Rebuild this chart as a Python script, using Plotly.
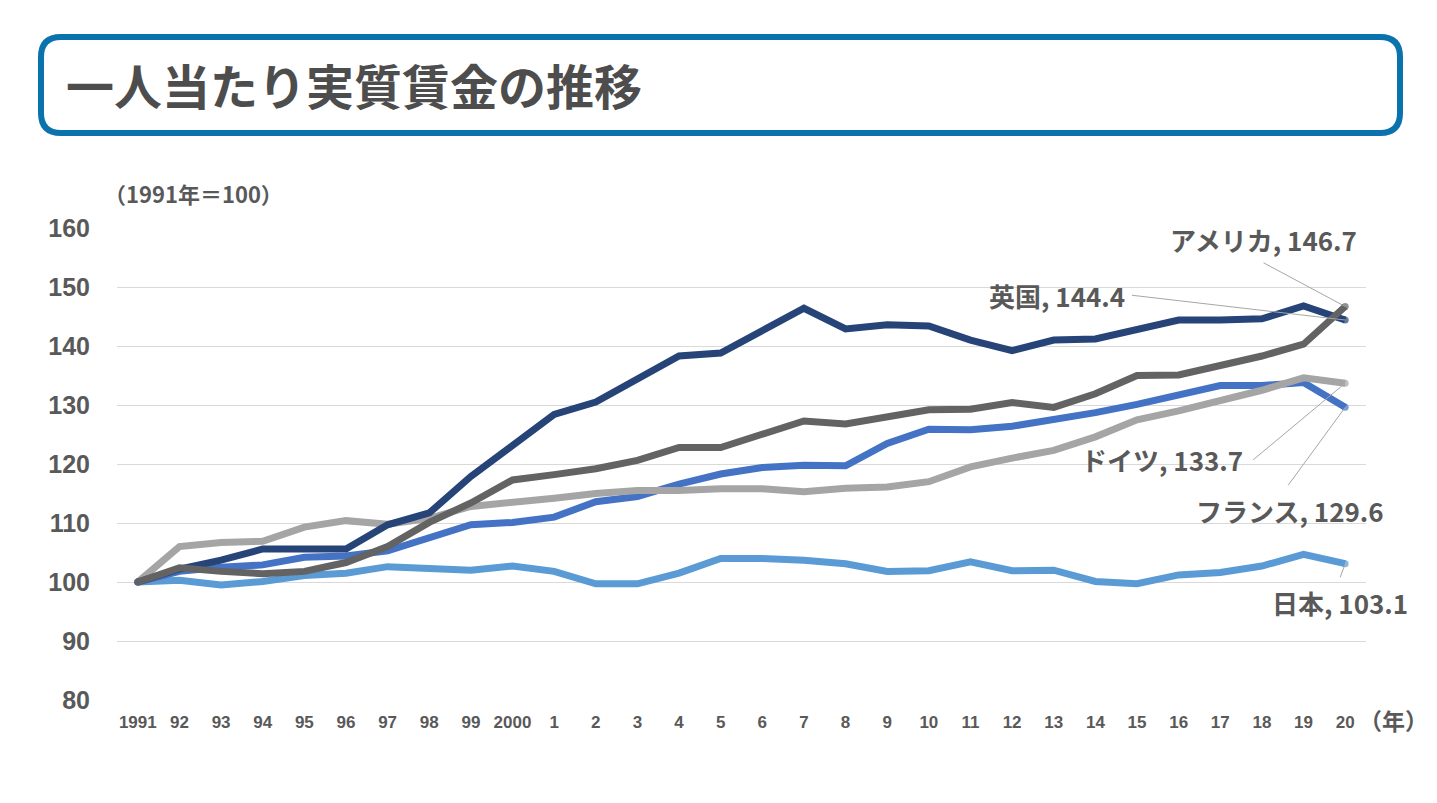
import plotly.graph_objects as go

years = list(range(1991, 2021))
tick_labels = ["1991", "92", "93", "94", "95", "96", "97", "98", "99", "2000",
               "1", "2", "3", "4", "5", "6", "7", "8", "9", "10",
               "11", "12", "13", "14", "15", "16", "17", "18", "19", "20"]

japan = [100, 100.3, 99.5, 100.1, 101.1, 101.5, 102.6, 102.3, 102.0, 102.7,
         101.8, 99.7, 99.7, 101.5, 104.0, 104.0, 103.7, 103.1, 101.8, 101.9,
         103.4, 101.9, 102.0, 100.1, 99.7, 101.2, 101.6, 102.7, 104.7, 103.1]
france = [100, 101.8, 102.5, 102.9, 104.2, 104.4, 105.3, 107.4, 109.7, 110.1,
          111.0, 113.6, 114.5, 116.6, 118.3, 119.4, 119.8, 119.7, 123.5, 125.9,
          125.8, 126.4, 127.5, 128.7, 130.1, 131.6, 133.3, 133.3, 133.8, 129.6]
germany = [100, 106.0, 106.7, 106.9, 109.3, 110.4, 109.8, 110.8, 112.8, 113.4,
           114.2, 115.0, 115.5, 115.5, 115.8, 115.8, 115.3, 115.9, 116.1, 117.0,
           119.5, 121.0, 122.3, 124.6, 127.5, 129.0, 130.6, 132.5, 134.6, 133.7]
uk = [100, 102.2, 103.7, 105.6, 105.6, 105.6, 109.7, 111.7, 117.9, 123.2,
      128.4, 130.5, 134.5, 138.3, 138.8, 142.5, 146.4, 142.9, 143.6, 143.4,
      141.0, 139.2, 141.0, 141.2, 142.7, 144.4, 144.4, 144.6, 146.8, 144.4]
usa = [100, 102.4, 101.8, 101.4, 101.8, 103.3, 106.0, 110.1, 113.4, 117.3,
       118.2, 119.2, 120.6, 122.8, 122.8, 124.9, 127.3, 126.8, 128.0, 129.2,
       129.3, 130.4, 129.6, 131.9, 135.0, 135.1, 136.7, 138.3, 140.3, 146.7]

series = [
    ("日本", japan, "#5B9BD5"),
    ("フランス", france, "#4472C4"),
    ("ドイツ", germany, "#A5A5A5"),
    ("英国", uk, "#264478"),
    ("アメリカ", usa, "#636363"),
]

x = list(range(len(years)))
TXT = "#595959"
JP = "Noto Sans CJK JP"
n = len(years) - 1

fig = go.Figure()
for name, vals, col in series:
    cap = [7 if i in (0, n) else 0 for i in x]  # rounded line ends
    fig.add_trace(go.Scatter(x=x, y=vals, mode="lines+markers", name=name,
                             line=dict(color=col, width=7),
                             marker=dict(size=cap, color=col, line=dict(width=0)),
                             hoverinfo="name+y"))

labels = [
    ("アメリカ", usa, 27.04, 158.0, "center", (27.04, 154.1)),
    ("英国", uk, 23.76, 148.6, "right", (23.88, 148.6)),
    ("ドイツ", germany, 26.6, 120.7, "right", (26.79, 120.7)),
    ("フランス", france, 27.68, 112.2, "center", (27.63, 116.4)),
    ("日本", japan, 28.88, 96.6, "center", (28.88, 100.8)),
]
for name, vals, tx, ty, anc, (lx, ly) in labels:
    fig.add_shape(type="line", xref="x", yref="y", x0=lx, y0=ly, x1=n, y1=vals[-1],
                  line=dict(color="#A6A6A6", width=1), layer="above")
    fig.add_annotation(x=tx, y=ty, xref="x", yref="y", showarrow=False,
                       text=f"{name}, {vals[-1]:.1f}", xanchor=anc, yanchor="middle",
                       font=dict(family=JP, size=26, color=TXT, weight="bold"))

# plot area in page pixels (page has 8px body offset)
OFF = 8
L, R, T, B = 117, 1366, 228, 700
W, H = R - L, B - T
def px(xp): return (xp - L) / W
def py(yp): return (B - yp) / H
x0b, x1b, y0b, y1b, r = 41, 1400, 37, 133, 20
path = (f"M {px(x0b + r)},{py(y0b)} L {px(x1b - r)},{py(y0b)} "
        f"Q {px(x1b)},{py(y0b)} {px(x1b)},{py(y0b + r)} "
        f"L {px(x1b)},{py(y1b - r)} Q {px(x1b)},{py(y1b)} {px(x1b - r)},{py(y1b)} "
        f"L {px(x0b + r)},{py(y1b)} Q {px(x0b)},{py(y1b)} {px(x0b)},{py(y1b - r)} "
        f"L {px(x0b)},{py(y0b + r)} Q {px(x0b)},{py(y0b)} {px(x0b + r)},{py(y0b)} Z")
fig.add_shape(type="path", xref="paper", yref="paper", path=path,
              line=dict(color="#0A72AC", width=6), fillcolor="white", layer="below")

fig.add_annotation(x=px(64), y=py(84), xref="paper", yref="paper", showarrow=False,
                   text="一人当たり実質賃金の推移", xanchor="left", yanchor="middle",
                   font=dict(family=JP, size=48, color="#4D4D4D", weight="bold"))
fig.add_annotation(x=px(102), y=py(193), xref="paper", yref="paper", showarrow=False,
                   text="（1991年＝100）", xanchor="left", yanchor="middle",
                   font=dict(family=JP, size=22, color=TXT, weight="bold"))
fig.add_annotation(x=px(1357), y=py(720), xref="paper", yref="paper", showarrow=False,
                   text="（年）", xanchor="left", yanchor="middle",
                   font=dict(family=JP, size=23, color=TXT, weight="bold"))

fig.update_layout(
    width=1437, height=803,
    margin=dict(l=L - OFF, r=1437 - R + OFF, t=T - OFF, b=803 - B + OFF, autoexpand=False),
    paper_bgcolor="white", plot_bgcolor="white",
    showlegend=False,
    font=dict(family=JP, color=TXT),
    xaxis=dict(range=[-0.5, n + 0.5], tickmode="array", tickvals=x, ticktext=tick_labels,
               showgrid=False, zeroline=False, showline=False, ticks="",
               tickfont=dict(family="Liberation Sans", size=17, color=TXT, weight="bold"),
               ticklabelstandoff=10),
    yaxis=dict(range=[80, 160], dtick=10, showgrid=True, gridcolor="#D9D9D9", gridwidth=1,
               zeroline=False, showline=False, ticks="",
               tickfont=dict(family="Liberation Sans", size=25, color=TXT, weight="bold"),
               ticklabelstandoff=26),
)

fig.write_html("out.html")
